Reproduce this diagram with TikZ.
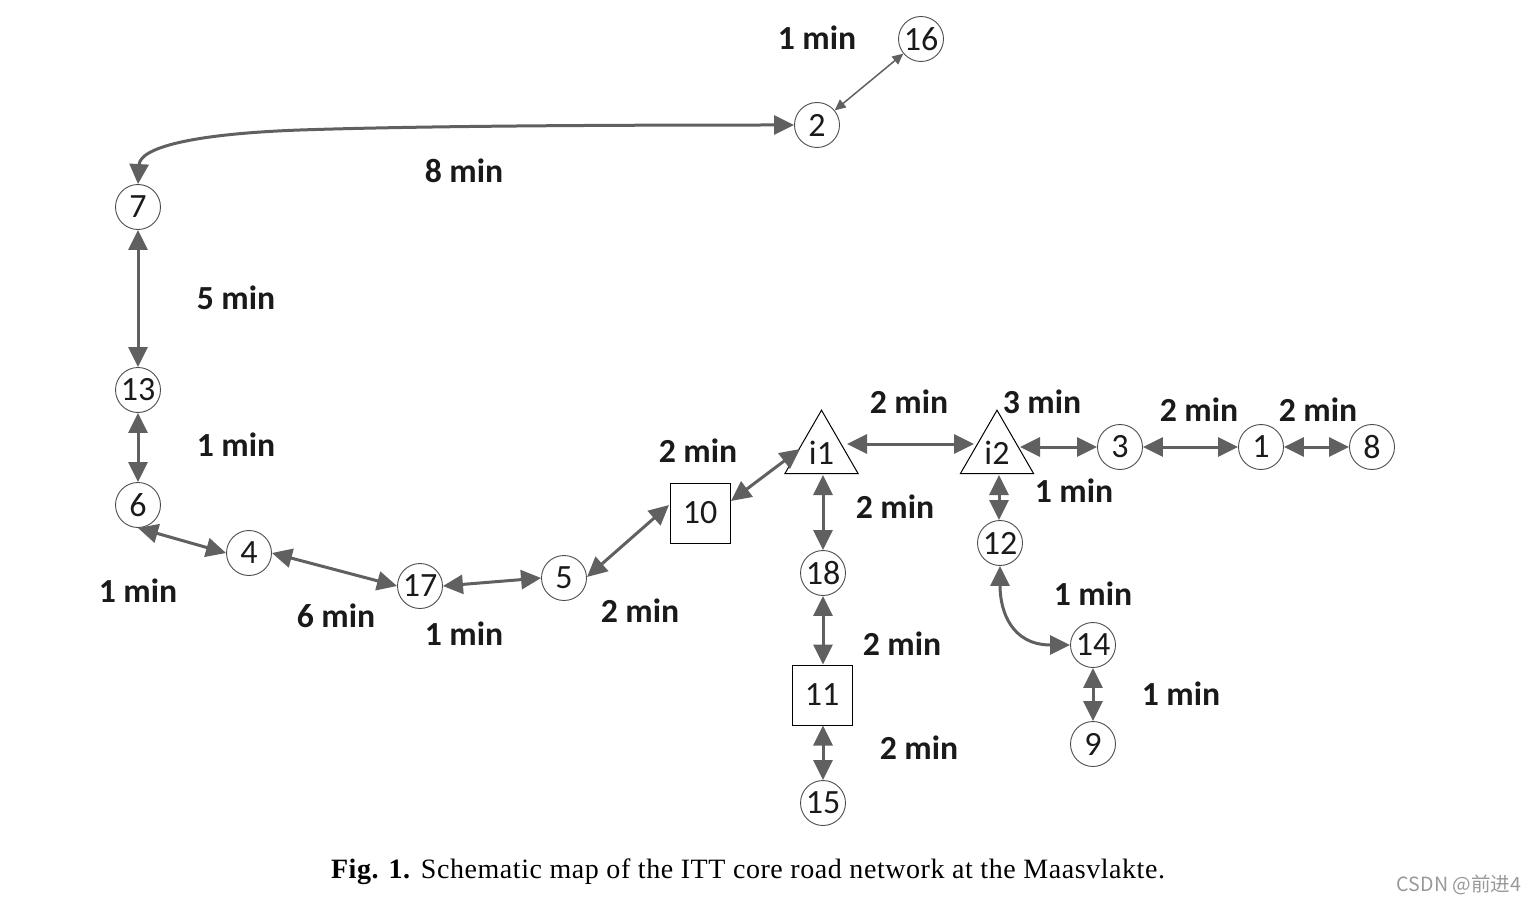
\documentclass[tikz,border=0pt]{standalone}
\usepackage{fontspec}
\setmainfont{Carlito}
\newfontfamily\capfont[LetterSpace=2]{Liberation Serif}
\newfontfamily\wmfont{Noto Sans CJK SC}
\usetikzlibrary{shapes.geometric,arrows.meta,calc}
\definecolor{lnk}{HTML}{606060}
\definecolor{ink}{HTML}{1A1A1A}
\tikzset{
  x=1pt,y=-1pt,
  circ/.style={circle,draw=black!70,line width=0.9pt,minimum size=45pt,inner sep=0pt,font=\fontsize{34}{34}\selectfont,text=ink},
  sq/.style={rectangle,draw=black,line width=1pt,minimum size=60pt,inner sep=0pt,font=\fontsize{34}{34}\selectfont,text=ink},
  tri/.style={regular polygon,regular polygon sides=3,draw=black,line width=1pt,minimum size=84.6pt,inner sep=0pt,font=\fontsize{34}{34}\selectfont,text=ink},
  lab/.style={font=\fontsize{33.7}{34}\selectfont\bfseries,text=ink,inner sep=0pt},
  link/.style={draw=lnk,line width=3pt,{Triangle[length=20pt,width=19pt]}-{Triangle[length=20pt,width=19pt]}},
  thinlink/.style={draw=lnk,line width=1.5pt,{Triangle[length=11pt,width=10pt]}-{Triangle[length=11pt,width=10pt]}},
}
\begin{document}
\begin{tikzpicture}
\useasboundingbox (0,0) rectangle (1536,901);
% nodes
\node[circ] (n16) at (921,39) {16};
\node[circ] (n2) at (817,125) {2};
\node[circ] (n7) at (138,207) {7};
\node[circ] (n13) at (138,390) {13};
\node[circ] (n6) at (138,505) {6};
\node[circ] (n4) at (249,553) {4};
\node[circ] (n17) at (420,586) {17};
\node[circ] (n5) at (564,578) {5};
\node[sq] (n10) at (700,513) {10};
\node[tri] (i1) at (821.5,452.5) {i1};
\node[tri] (i2) at (997,452.5) {i2};
\node[circ] (n18) at (823,573) {18};
\node[sq] (n11) at (822,695) {11};
\node[circ] (n15) at (823,803) {15};
\node[circ] (n12) at (1000,543) {12};
\node[circ] (n14) at (1093,645) {14};
\node[circ] (n9) at (1093,744) {9};
\node[circ] (n3) at (1120,447) {3};
\node[circ] (n1) at (1261,447) {1};
\node[circ] (n8) at (1372,447) {8};
% ports
\coordinate (p10a) at (731,501);
\coordinate (p10b) at (669,505);
\coordinate (pi1w) at (800,449);
\coordinate (pi1e) at (847,444);
\coordinate (pi2w) at (974,444);
\coordinate (pi2e) at (1020,447);
\coordinate (pi1s) at (823,475);
\coordinate (pi2s) at (999,475);
\coordinate (p5) at (587,577);
% connectors
\draw[thinlink] (n2) -- (n16);
\draw[link] (n2.west) .. controls (600,125) and (420,126) .. (300,130) .. controls (190,134) and (140,148) .. (n7.north);
\draw[link] (n7) -- (n13);
\draw[link] (n13) -- (n6);
\draw[link] (n6.south) -- (n4.west);
\draw[link] (n4.east) -- (n17.west);
\draw[link] (n17.east) -- (n5.west);
\draw[link] (p5) -- (p10b);
\draw[link] (p10a) -- (pi1w);
\draw[link] (pi1e) -- (pi2w);
\draw[link] (pi2e) -- (n3.west);
\draw[link] (n3.east) -- (n1.west);
\draw[link] (n1.east) -- (n8.west);
\draw[link] (pi1s) -- (pi1s |- n18.north);
\draw[link] (n18) -- (n18 |- n11.north);
\draw[link] (n15.north) -- (n15 |- n11.south);
\draw[link] (pi2s) -- (pi2s |- n12.north);
\draw[link] (n12.south) .. controls (1000,612) and (1012,645) .. (n14.west);
\draw[link] (n14) -- (n9);
% labels
\node[lab] (l1) at (817,38) {1 min};
\node[lab] (l2) at (464,171) {8 min};
\node[lab] (l3) at (236,298) {5 min};
\node[lab] (l4) at (236,445) {1 min};
\node[lab] (l5) at (138,591) {1 min};
\node[lab] (l6) at (336,616) {6 min};
\node[lab] (l7) at (464,634) {1 min};
\node[lab] (l8) at (640,611) {2 min};
\node[lab] (l9) at (698,451) {2 min};
\node[lab] (l10) at (909,402) {2 min};
\node[lab] (l11) at (1042,402) {3 min};
\node[lab] (l12) at (1199,410) {2 min};
\node[lab] (l13) at (1318,410) {2 min};
\node[lab] (l14) at (1074,491) {1 min};
\node[lab] (l15) at (895,507) {2 min};
\node[lab] (l16) at (1093,594) {1 min};
\node[lab] (l17) at (902,644) {2 min};
\node[lab] (l18) at (1181,694) {1 min};
\node[lab] (l19) at (919,748) {2 min};
% caption
\node[inner sep=0pt,text=black] (cap) at (748,872) {\capfont\fontsize{28}{28}\selectfont\textbf{Fig. 1.} Schematic map of the ITT core road network at the Maasvlakte.};
\node[inner sep=0pt,text=black!40] (wm) at (1459,885) {\wmfont\fontsize{19.6}{20}\selectfont CSDN @前进4};
\end{tikzpicture}
\end{document}
